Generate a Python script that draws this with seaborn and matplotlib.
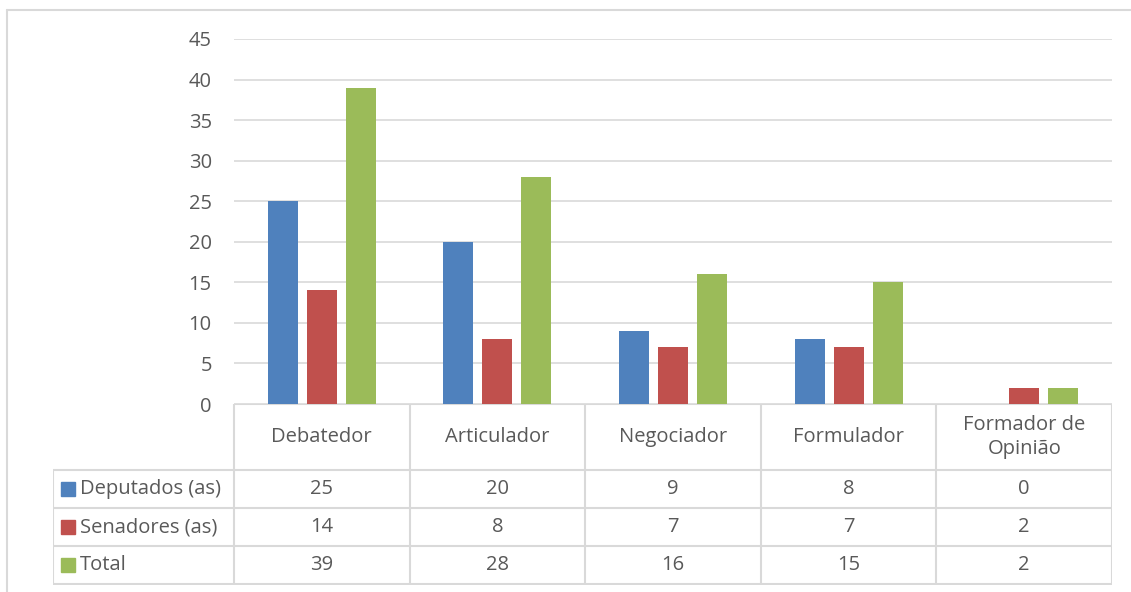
import pandas as pd
import seaborn as sns
import matplotlib.pyplot as plt
from matplotlib.lines import Line2D

# Data
categories = ['Debatedor', 'Articulador', 'Negociador', 'Formulador', 'Formador de\nOpinião']
series = ['Deputados (as)', 'Senadores (as)', 'Total']
deputados = [25, 20, 9, 8, 0]
senadores = [14, 8, 7, 7, 2]
total = [39, 28, 16, 15, 2]
colors = ['#4F81BD', '#C0504D', '#9BBB59']

values = {'Deputados (as)': deputados, 'Senadores (as)': senadores, 'Total': total}
df = pd.DataFrame([
    {'Categoria': c, 'Serie': s, 'Valor': values[s][i]}
    for s in series for i, c in enumerate(categories)
])

sns.set_style('white')
plt.rcParams['font.family'] = ['Open Sans', 'DejaVu Sans']
text_color = '#595959'
grid_color = '#D9D9D9'
fs = 14.5

W, H = 1131, 592
fig = plt.figure(figsize=(W / 100, H / 100), dpi=100)

# pixel helpers
def box(x0, y0, x1, y1):
    return [x0 / W, 1 - y1 / H, (x1 - x0) / W, (y1 - y0) / H]

# outer chart border (top and left)
fig.add_artist(Line2D([7 / W, 1], [1 - 10 / H, 1 - 10 / H], color=grid_color, lw=1.5))
fig.add_artist(Line2D([7 / W, 7 / W], [0, 1 - 10 / H], color=grid_color, lw=1.5))

# --- Bar chart ---
ax = fig.add_axes(box(234, 39, 1112, 404))
sns.barplot(data=df, x='Categoria', y='Valor', hue='Serie', hue_order=series,
            palette=colors, width=0.665, gap=0.23, saturation=1, ax=ax,
            legend=False, edgecolor='none')
ax.set_xlim(-0.5, 4.5)
ax.set_ylim(0, 45)
ax.set_yticks(range(0, 46, 5))
ax.set_xticks([])
ax.set_xlabel('')
ax.set_ylabel('')
ax.tick_params(axis='y', length=0, pad=16, labelsize=fs, labelcolor=text_color)
ax.yaxis.grid(True, color=grid_color, lw=1.2)
ax.set_axisbelow(True)
for sp in ax.spines.values():
    sp.set_visible(False)

# --- Data table ---
left = -0.5 - (234 - 53) / ((1112 - 234) / 5)
tab = fig.add_axes(box(53, 404, 1112, 585))
tab.set_xlim(left, 4.5)
tab.set_ylim(181, 0)
tab.axis('off')
lc = dict(color=grid_color, lw=1.5, solid_capstyle='butt')

tab.plot([-0.5, 4.5], [0, 0], **lc)
for y in [66, 104, 142, 180]:
    tab.plot([left, 4.5], [y, y], **lc)
for i in range(6):
    tab.plot([i - 0.5, i - 0.5], [0, 180], **lc)
tab.plot([left, left], [66, 180], **lc)

for i, c in enumerate(categories):
    tab.text(i, 33, c, ha='center', va='center', fontsize=fs, color=text_color,
             linespacing=1.25)

rows_mid = [85, 123, 161]
for r, s in enumerate(series):
    tab.plot([left + 0.087], [rows_mid[r]], marker='s', markersize=10,
             color=colors[r], linestyle='none')
    tab.text(left + 0.155, rows_mid[r], s, ha='left', va='center', fontsize=fs,
             color=text_color)
    for i, v in enumerate(values[s]):
        tab.text(i, rows_mid[r], str(v), ha='center', va='center', fontsize=fs,
                 color=text_color)

fig.savefig('out.png', dpi=100)
